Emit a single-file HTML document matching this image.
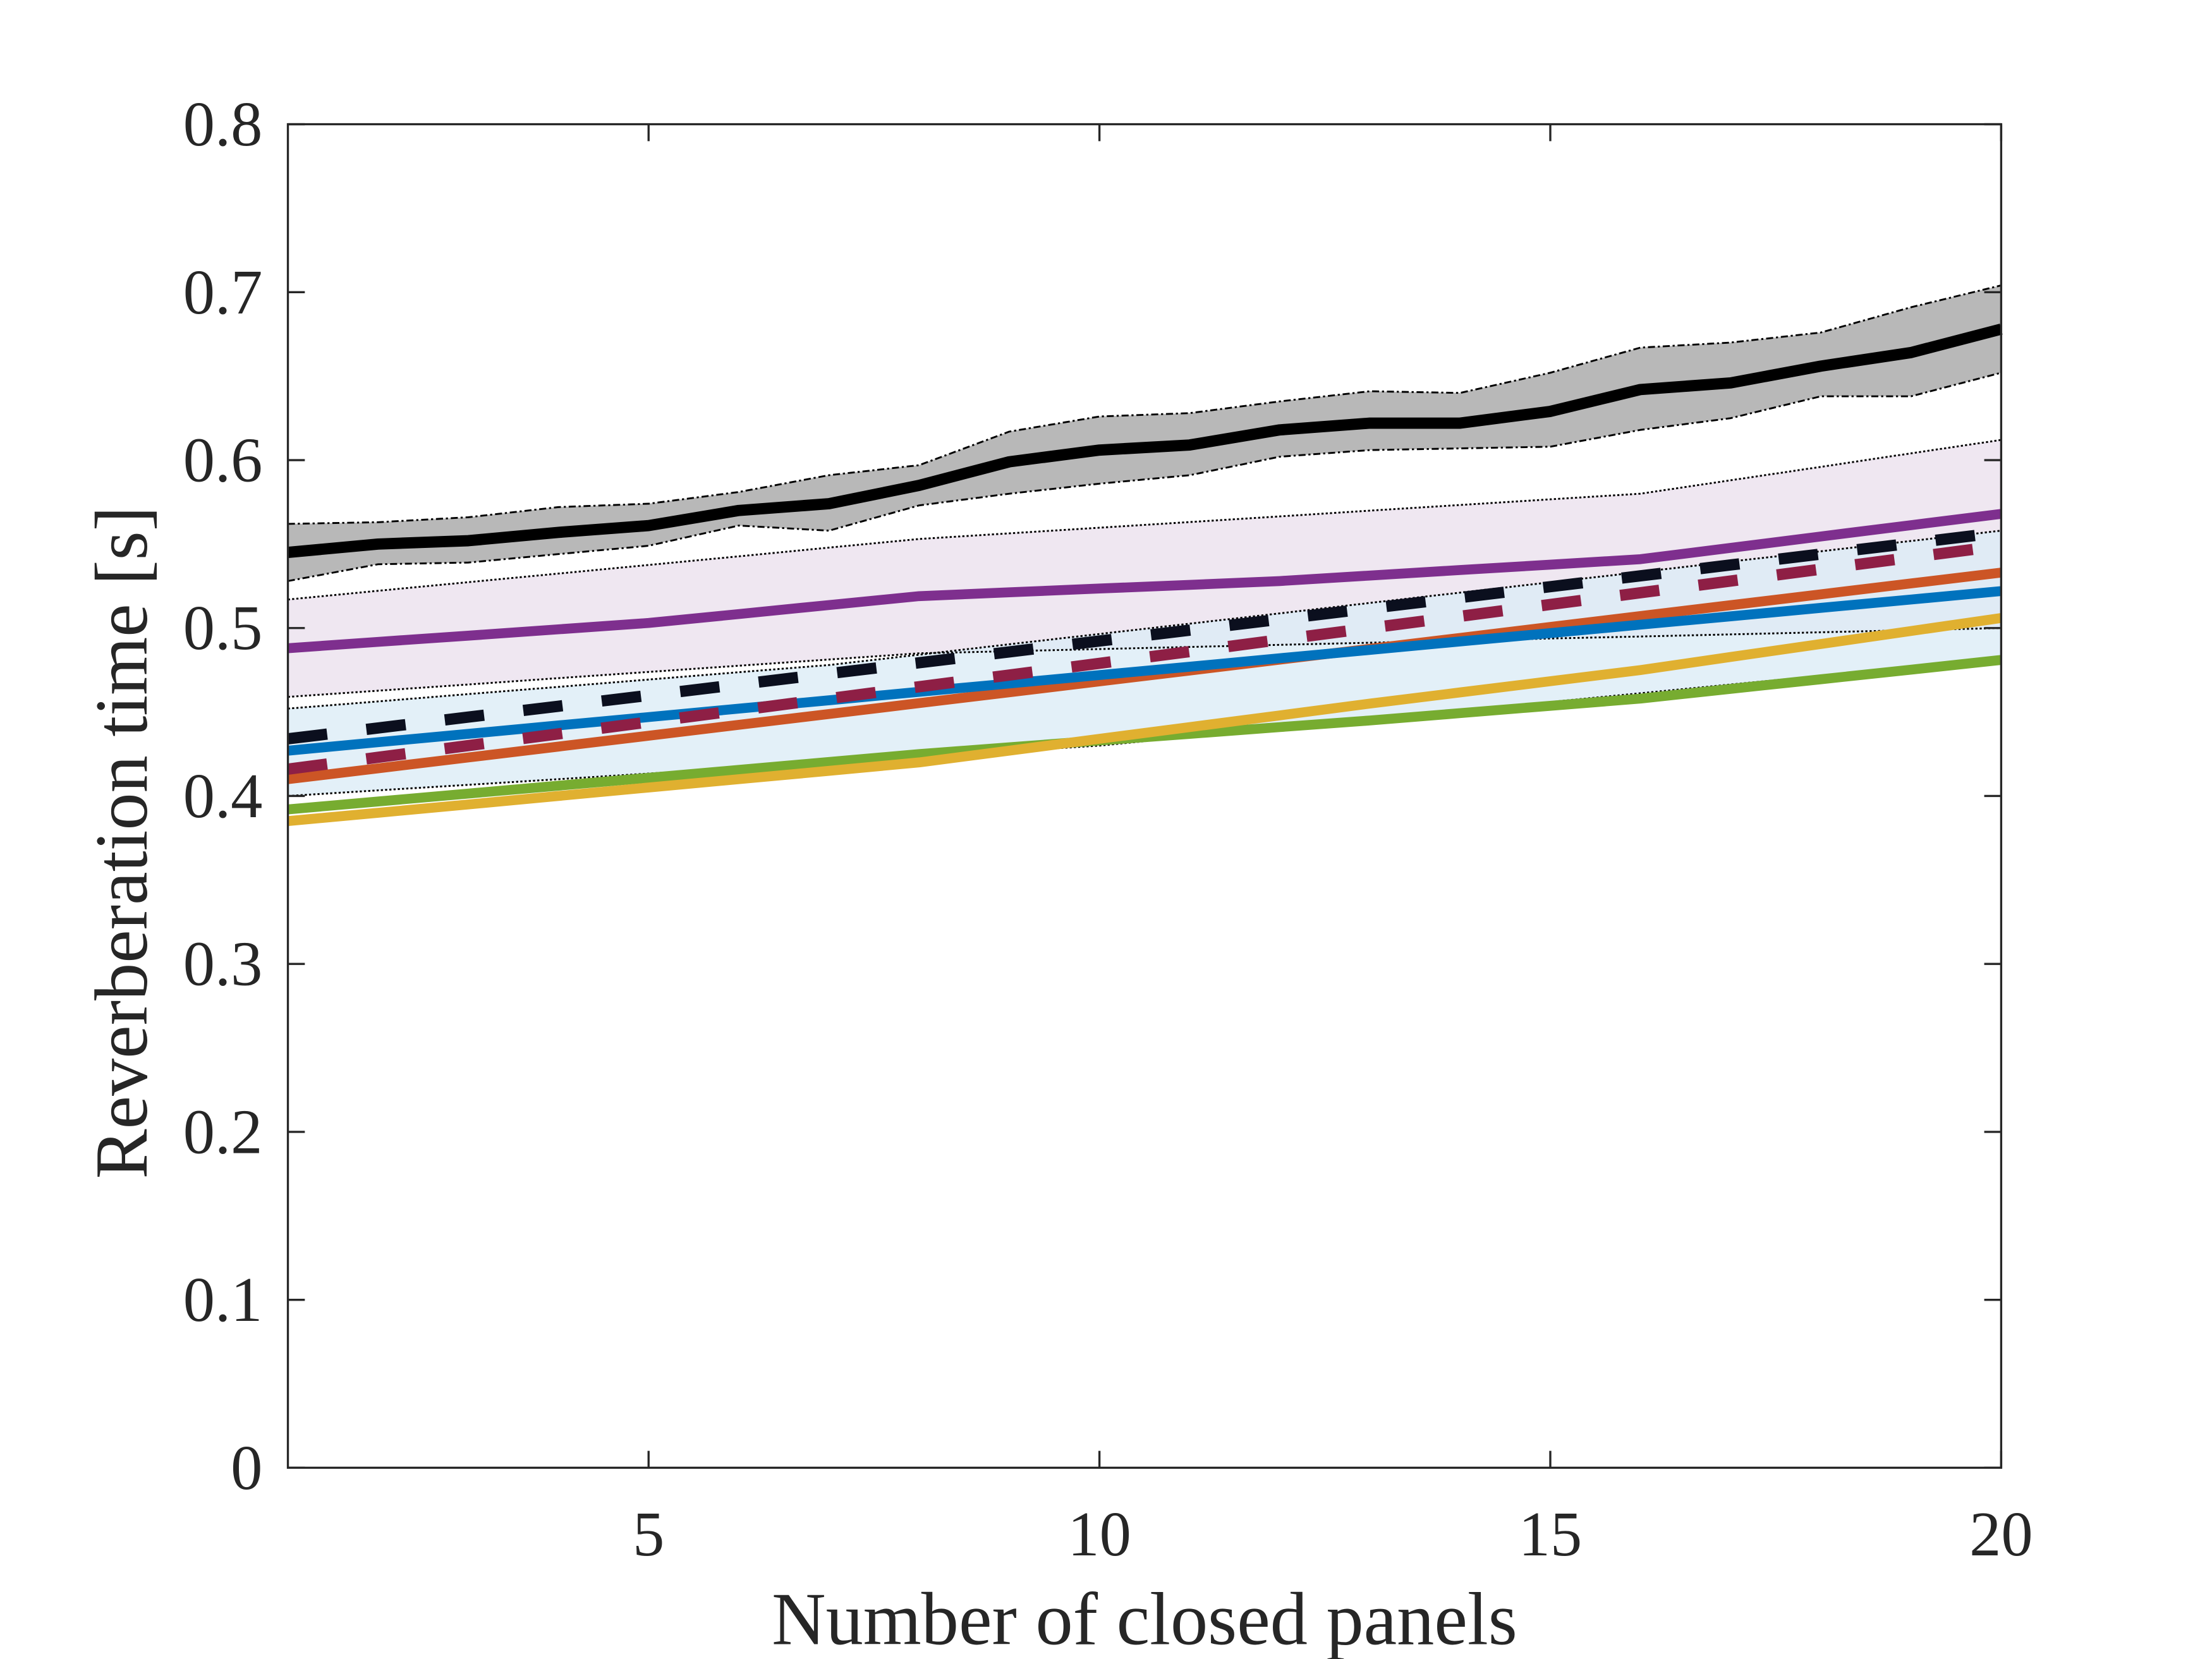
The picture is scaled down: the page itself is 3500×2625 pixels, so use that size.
<!DOCTYPE html>
<html><head><meta charset="utf-8"><style>html,body{margin:0;padding:0;background:#fff}svg{display:block}</style></head>
<body>
<svg id="s" xmlns="http://www.w3.org/2000/svg" width="3500" height="2625" viewBox="0 0 1567.4 1175.5" font-family="Liberation Serif, serif"></svg>
<script>
const X=x=>204+(x-1)*63.895, Y=v=>1040-v*1190;
const xs=[...Array(20)].map((_,i)=>i+1);
function interp(pts){return xs.map(x=>{for(let i=0;i<pts.length-1;i++){const[a,b]=pts[i],[c,d]=pts[i+1];if(x>=a&&x<=c)return b+(d-b)*(x-a)/(c-a);}return pts[pts.length-1][1];});}
const pth=a=>a.map((v,i)=>(i?'L':'M')+X(i+1).toFixed(1)+' '+Y(v).toFixed(1)).join('');
const area=(u,l)=>pth(u)+l.slice().reverse().map((v,j)=>'L'+X(20-j).toFixed(1)+' '+Y(v).toFixed(1)).join('')+'Z';
const bm=[0.545,0.550,0.552,0.557,0.561,0.570,0.574,0.585,0.599,0.606,0.609,0.618,0.622,0.622,0.629,0.642,0.646,0.656,0.664,0.678];
const bu=[0.562,0.563,0.566,0.572,0.574,0.581,0.591,0.597,0.617,0.626,0.628,0.635,0.641,0.640,0.652,0.667,0.670,0.676,0.691,0.704];
const bl=[0.528,0.538,0.539,0.544,0.549,0.561,0.558,0.573,0.580,0.586,0.591,0.602,0.606,0.607,0.608,0.618,0.625,0.638,0.638,0.652];
const pu=interp([[1,0.517],[8,0.553],[16,0.580],[20,0.612]]);
const pl=interp([[1,0.459],[8,0.485],[20,0.500]]);
const pm=interp([[1,0.488],[5,0.503],[8,0.519],[12,0.528],[16,0.541],[20,0.568]]);
const cu=interp([[1,0.452],[7,0.478],[20,0.558]]);
const cl=interp([[1,0.400],[10,0.430],[20,0.482]]);
const kd=interp([[1,0.434],[20,0.557]]);
const md=interp([[1,0.416],[20,0.549]]);
const bl2=interp([[1,0.427],[20,0.522]]);
const or=interp([[1,0.410],[20,0.533]]);
const ye=interp([[1,0.385],[8,0.420],[13,0.455],[16,0.475],[20,0.506]]);
const gr=interp([[1,0.392],[8,0.425],[13,0.445],[16,0.458],[20,0.481]]);
let h='';
h+=`<path d="${area(pu,pl)}" fill="#efe7f1"/>`;
h+=`<path d="${area(cu,cl)}" fill="#dcecf6" fill-opacity="0.8"/>`;
h+=`<path d="${area(bu,bl)}" fill="#b8b8b8"/>`;
const ln=(a,c,w,d)=>h+=`<path d="${pth(a)}" fill="none" stroke="${c}" stroke-width="${w}" ${d?`stroke-dasharray="${d}"`:''} stroke-linejoin="round"/>`;
ln(pu,'#000',1.3,'1.5 1.5');ln(pl,'#000',1.3,'1.5 1.5');ln(cu,'#000',1.3,'1.5 1.5');ln(cl,'#000',1.3,'1.5 1.5');
ln(bu,'#000',1.3,'5 2 1.5 2');ln(bl,'#000',1.3,'5 2 1.5 2');
ln(gr,'#77ac30',7);ln(ye,'#e0b030',7);ln(or,'#cc5525',7);ln(bl2,'#0072bd',7);
ln(md,'#8e1f45',8,'28 28');ln(kd,'#0b0f1e',8,'28 28');
ln(pm,'#7e2f8e',7);ln(bm,'#000',8);
h+=`<rect x="204" y="88" width="1214" height="952" fill="none" stroke="#262626" stroke-width="1.5"/>`;
for(let i=0;i<=8;i++){const y=Y(i/10);h+=`<path d="M204 ${y}h12M1418 ${y}h-12" stroke="#262626" stroke-width="1.5"/><text x="186" y="${y+15}" font-size="45" text-anchor="end" fill="#262626">${i?(i/10).toFixed(1):'0'}</text>`;}
for(const x of [5,10,15,20]){const xx=X(x);h+=`<path d="M${xx} 1040v-12M${xx} 88v12" stroke="#262626" stroke-width="1.5"/><text x="${xx}" y="1102" font-size="45" text-anchor="middle" fill="#262626">${x}</text>`;}
h+=`<text x="811" y="1165" font-size="53" text-anchor="middle" fill="#262626">Number of closed panels</text>`;
h+=`<text transform="translate(104 597) rotate(-90)" font-size="53" text-anchor="middle" fill="#262626">Reverberation time [s]</text>`;
document.getElementById('s').innerHTML=h;
</script>
</body></html>
